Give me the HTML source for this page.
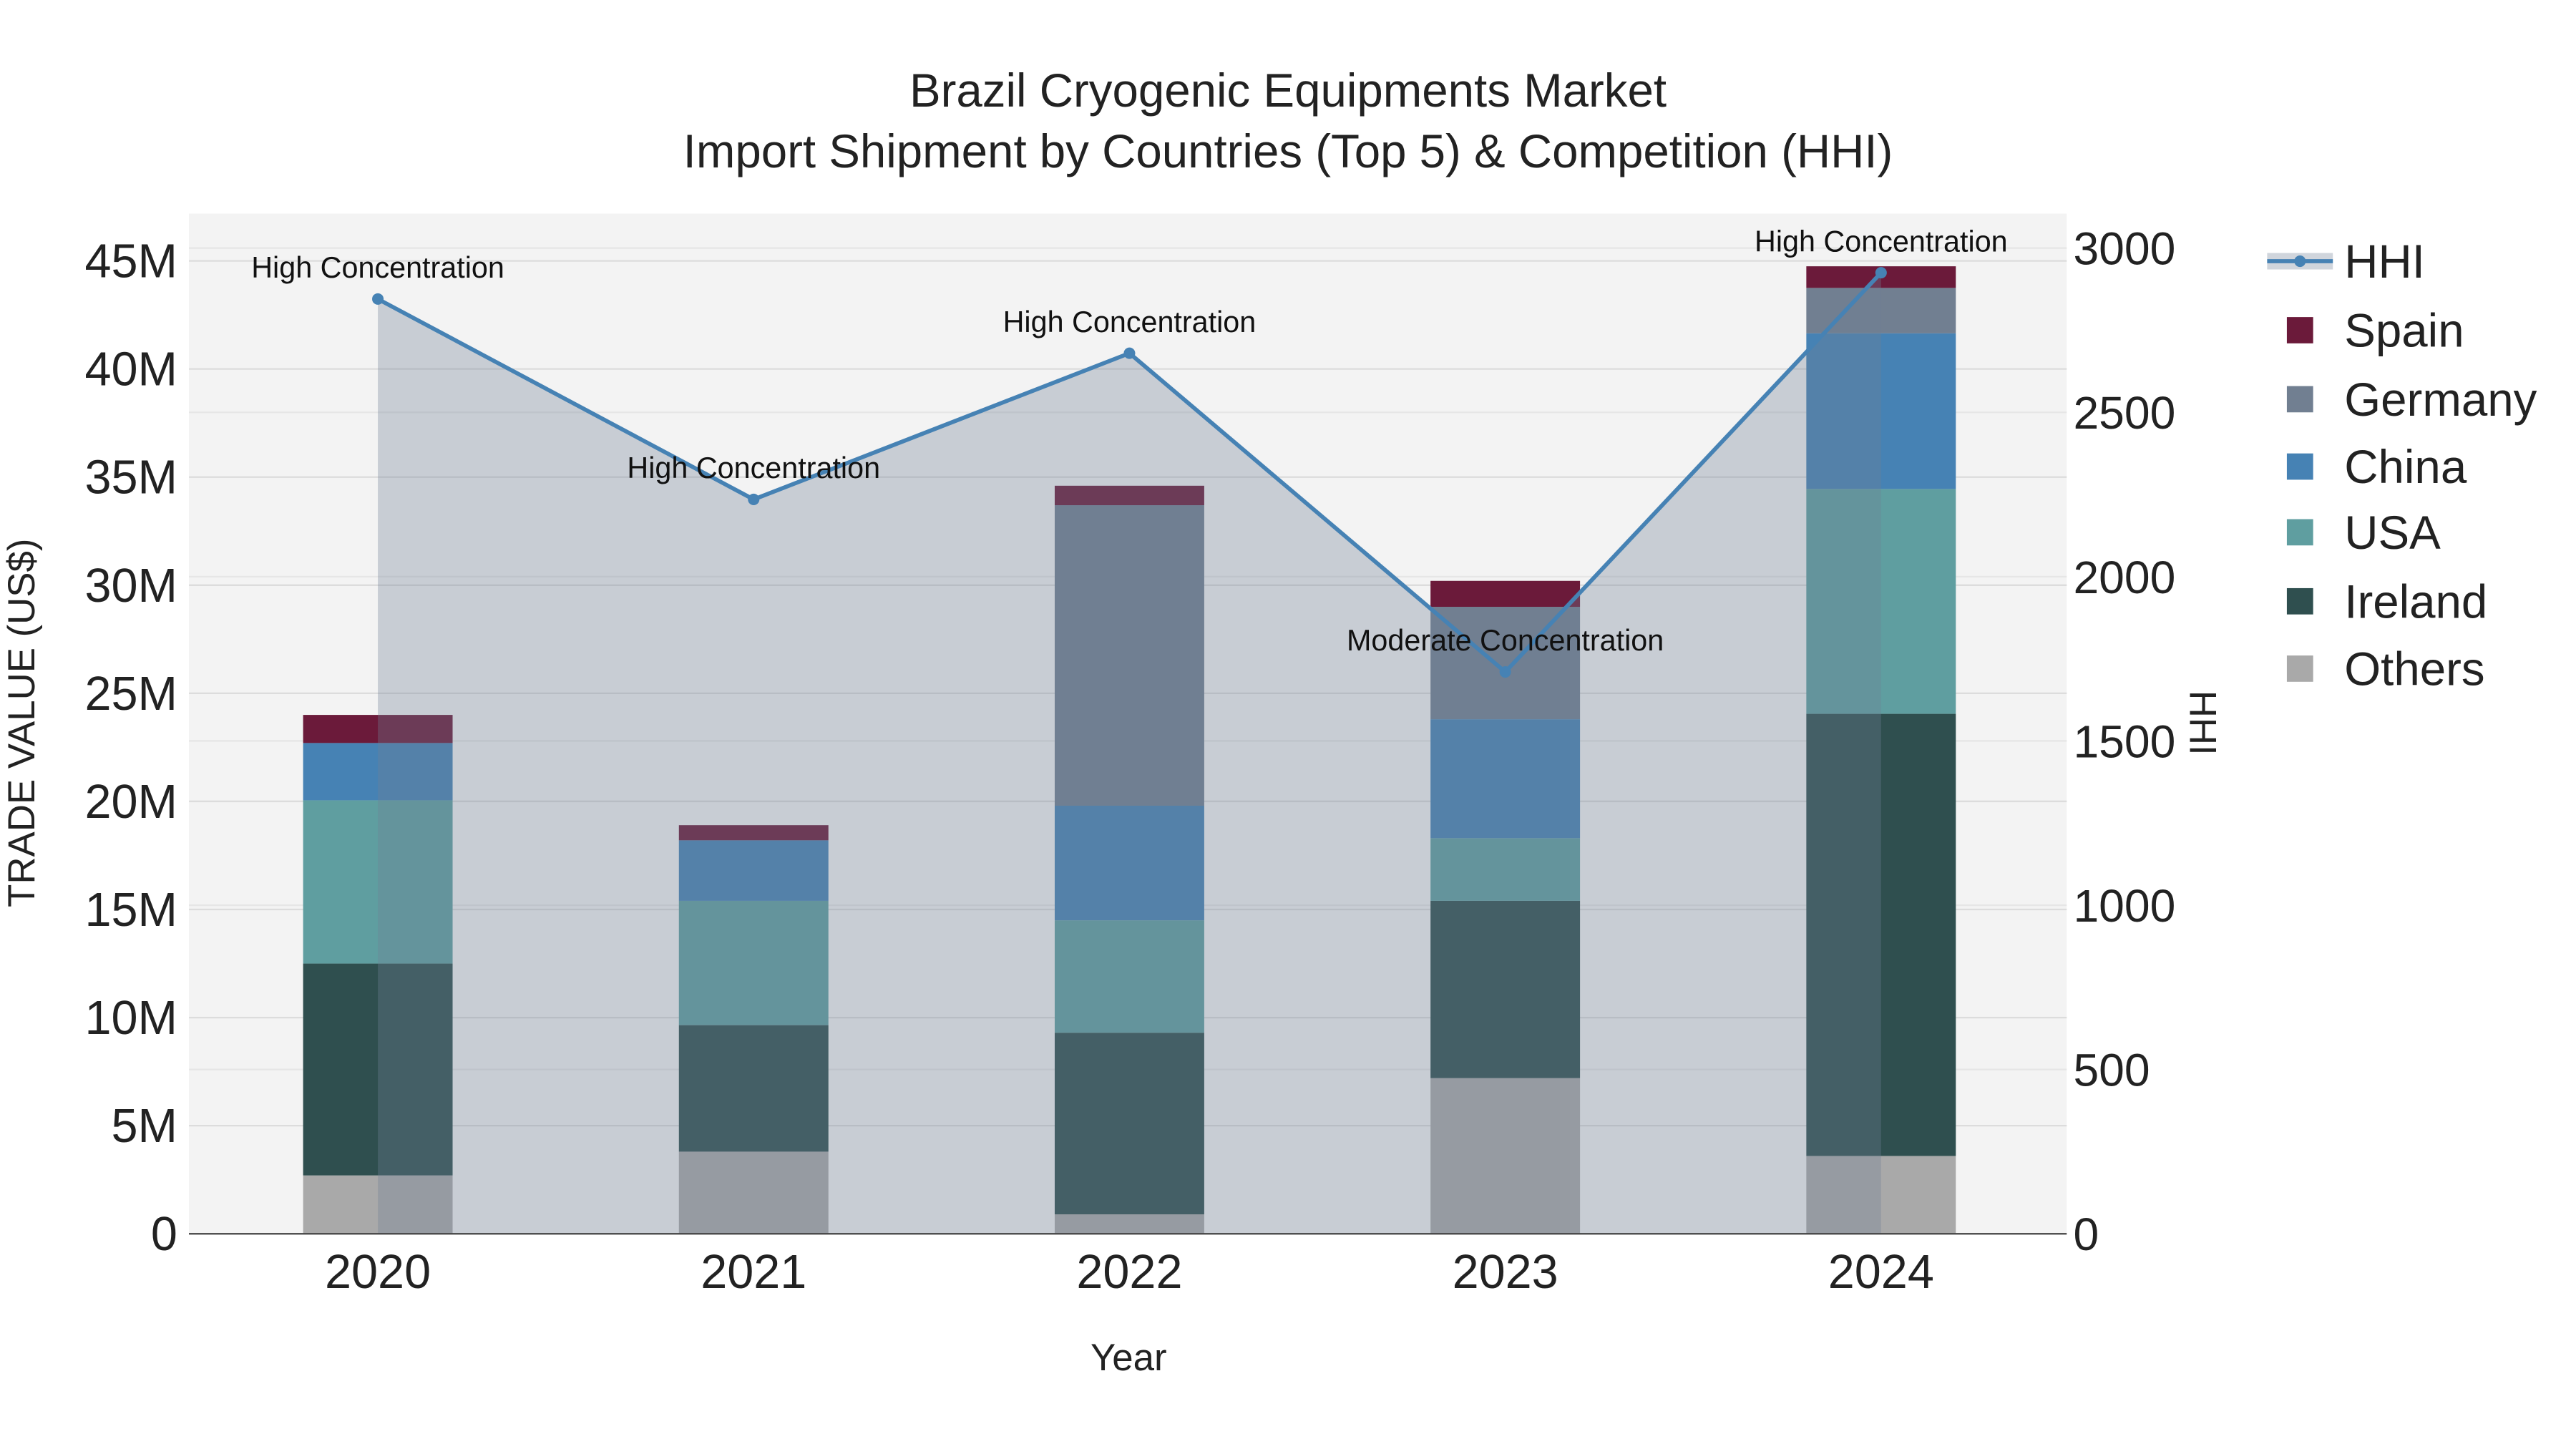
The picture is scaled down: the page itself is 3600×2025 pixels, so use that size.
<!DOCTYPE html>
<html><head><meta charset="utf-8"><style>html,body{margin:0;padding:0;background:#fff}svg{display:block}text{font-family:"Liberation Sans",sans-serif}</style></head>
<body>
<svg id="chart" width="3600" height="2025" viewBox="0 0 1568 882" xmlns="http://www.w3.org/2000/svg"></svg>
<script>
const years = ["2020","2021","2022","2023","2024"];
const seriesNames = ["Others","Ireland","USA","China","Germany","Spain"];
const others = [2.7, 3.8, 0.9, 7.2, 3.6];
const ireland = [9.8, 5.85, 8.4, 8.2, 20.45];
const usa = [7.55, 5.75, 5.2, 2.9, 10.4];
const china = [2.65, 2.8, 5.3, 5.5, 7.2];
const germany = [0, 0, 13.9, 5.2, 2.1];
const spain = [1.3, 0.7, 0.9, 1.2, 1.0];
const hhi = [2845, 2235, 2680, 1710, 2925];
const hhiLabels = ["High Concentration","High Concentration","High Concentration","Moderate Concentration","High Concentration"];
const leftTicks = [0,5,10,15,20,25,30,35,40,45];
const rightTicks = [0,500,1000,1500,2000,2500,3000];
const colors = ["#a9a9a9","#2f4f4f","#5f9ea0","#4682b4","#717f91","#6b1a3a"];

const svg = document.getElementById('chart');
const NS = "http://www.w3.org/2000/svg";
const PL=115, PR=1258, PT=130, PB=751;
function yL(v){return PB - v/5*65.8;}
function yR(v){return PB - v/500*100;}
function xC(i){return 230 + i*228.75;}
function mk(tag, attrs, parent){const e=document.createElementNS(NS,tag);for(const k in attrs)e.setAttribute(k,attrs[k]);(parent||svg).appendChild(e);return e;}

const bg = mk('rect',{x:PL,y:PT,width:PR-PL,height:PB-PT,fill:'#f3f3f3'});



rightTicks.forEach(t=>{const g=mk('line',{x1:PL,x2:PR,y1:yR(t),y2:yR(t),stroke:'#e6e6e6','stroke-width':1});

});
leftTicks.forEach(t=>{const g=mk('line',{x1:PL,x2:PR,y1:yL(t),y2:yL(t),stroke:'#dcdcdc','stroke-width':1});


const tx=mk('text',{x:108,y:yL(t)+10,'text-anchor':'end','font-size':29,fill:'#222'});
tx.textContent = t===0?'0':t+'M';

});
rightTicks.forEach(t=>{const tx=mk('text',{x:1262,y:yR(t)+10,'font-size':28,fill:'#222'});tx.textContent=t;

});

const stacks=[others,ireland,usa,china,germany,spain];
years.forEach((y,i)=>{let base=0;stacks.forEach((s,k)=>{const v=s[i];if(v>0){
const r=mk('rect',{x:xC(i)-45.5,y:yL(base+v),width:91,height:yL(base)-yL(base+v),fill:colors[k]});

}base+=v;});
const tl=mk('text',{x:xC(i),y:784,'text-anchor':'middle','font-size':29,fill:'#222'});tl.textContent=y;

});

let d='M'+xC(0)+','+PB;hhi.forEach((v,i)=>d+=' L'+xC(i)+','+yR(v));d+=' L'+xC(hhi.length-1)+','+PB+'Z';
const area=mk('path',{d:d,fill:'rgba(112,128,150,0.33)'});


const ax=mk('line',{x1:PL,x2:PR,y1:PB,y2:PB,stroke:'#444','stroke-width':1});


let ld='';hhi.forEach((v,i)=>ld+=(i?' L':'M')+xC(i)+','+yR(v));
const line=mk('path',{d:ld,fill:'none',stroke:'#4682b4','stroke-width':2.5});


hhi.forEach((v,i)=>{const c=mk('circle',{cx:xC(i),cy:yR(v),r:3.5,fill:'#4682b4'});


const a=mk('text',{x:xC(i),y:yR(v)-13,'text-anchor':'middle','font-size':18,fill:'#111'});a.textContent=hhiLabels[i];

});
</script>
<svg style="position:absolute;left:0;top:0" width="3600" height="2025" viewBox="0 0 1568 882" xmlns="http://www.w3.org/2000/svg">
<text x="784" y="65" text-anchor="middle" font-size="28.5" fill="#222">Brazil Cryogenic Equipments Market</text>
<text x="784" y="102" text-anchor="middle" font-size="28.5" fill="#222">Import Shipment by Countries (Top 5) &amp; Competition (HHI)</text>
<text transform="translate(21,440) rotate(-90)" text-anchor="middle" font-size="23" fill="#222">TRADE VALUE (US$)</text>
<text transform="translate(1333,440) rotate(90)" text-anchor="middle" font-size="23" fill="#222">HHI</text>
<text x="687" y="834" text-anchor="middle" font-size="23" fill="#222">Year</text>
<g font-size="28.5" fill="#222">
<g><rect x="1380" y="154" width="40" height="10" fill="rgba(112,128,150,0.33)"/><line x1="1380" y1="159" x2="1420" y2="159" stroke="#4682b4" stroke-width="2.5"/><circle cx="1400" cy="159" r="3.5" fill="#4682b4"/><text x="1427" y="169">HHI</text></g>
<g><rect x="1392" y="193" width="16" height="16" fill="#6b1a3a"/><text x="1427" y="211">Spain</text></g>
<g><rect x="1392" y="235" width="16" height="16" fill="#717f91"/><text x="1427" y="253">Germany</text></g>
<g><rect x="1392" y="276" width="16" height="16" fill="#4682b4"/><text x="1427" y="294">China</text></g>
<g><rect x="1392" y="316" width="16" height="16" fill="#5f9ea0"/><text x="1427" y="334">USA</text></g>
<g><rect x="1392" y="358" width="16" height="16" fill="#2f4f4f"/><text x="1427" y="376">Ireland</text></g>
<g><rect x="1392" y="399" width="16" height="16" fill="#a9a9a9"/><text x="1427" y="417">Others</text></g>
</g>
</svg>
</body></html>
